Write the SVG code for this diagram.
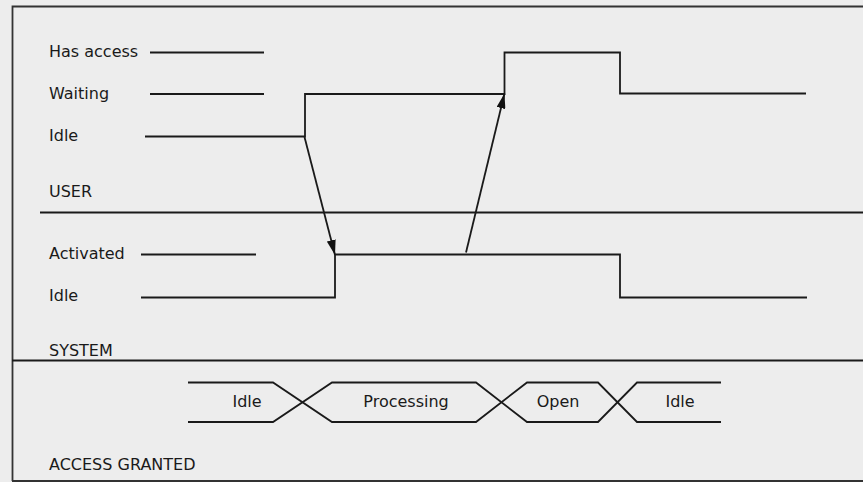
<svg xmlns="http://www.w3.org/2000/svg" width="863" height="482" viewBox="0 0 863 482">
<style>
text{font-family:"DejaVu Sans","Noto Sans",sans-serif;font-size:16px;fill:#1a1a1a}
.c{text-anchor:middle}
.l{fill:none;stroke:#1a1a1a;stroke-width:1.8}
.b{fill:none;stroke:#333;stroke-width:1.8}
</style>
<defs>
<marker id="ah" viewBox="0 0 15 9" refX="15" refY="4.5" markerWidth="15" markerHeight="9" markerUnits="userSpaceOnUse" orient="auto">
<path d="M0,0 L15,4.5 L0,9 Z" fill="#111"/>
</marker>
</defs>
<rect x="0" y="0" width="863" height="482" fill="#ededed"/>
<g id="frame">
<path class="b" d="M12.5,481 V6.5 H864"/>
<path class="b" d="M12,481 H864"/>
<path class="l" d="M40,212.5 H863"/>
<path class="l" d="M12,360.5 H863"/>
</g>
<g id="user">
<text x="49" y="57">Has access</text>
<text x="49" y="99">Waiting</text>
<text x="49" y="141">Idle</text>
<text x="49" y="197">USER</text>
<path class="l" d="M150,52.5 H264"/>
<path class="l" d="M150,94 H264"/>
<path class="l" d="M145,136.5 H305 V94 H504.5 V52.5 H620 V93.5 H806"/>
</g>
<g id="system">
<text x="49" y="259">Activated</text>
<text x="49" y="301">Idle</text>
<text x="49" y="356">SYSTEM</text>
<path class="l" d="M141,254.5 H256"/>
<path class="l" d="M141,297.5 H335 V254.5 H620 V297.5 H807"/>
</g>
<g id="access">
<text x="49" y="470">ACCESS GRANTED</text>
<path class="l" d="M188,382.5 H273 L332,422 H476 L527,382.5 H598 L637,422 H721"/>
<path class="l" d="M188,422 H273 L332,382.5 H476 L527,422 H598 L637,382.5 H721"/>
<text class="c" x="247" y="407">Idle</text>
<text class="c" x="406" y="407">Processing</text>
<text class="c" x="558" y="407">Open</text>
<text class="c" x="680" y="407">Idle</text>
</g>
<g id="connectors">
<line class="l" x1="304.5" y1="137" x2="335" y2="255" marker-end="url(#ah)"/>
<line class="l" x1="466" y1="252.5" x2="504.5" y2="93.5" marker-end="url(#ah)"/>
</g>
</svg>
